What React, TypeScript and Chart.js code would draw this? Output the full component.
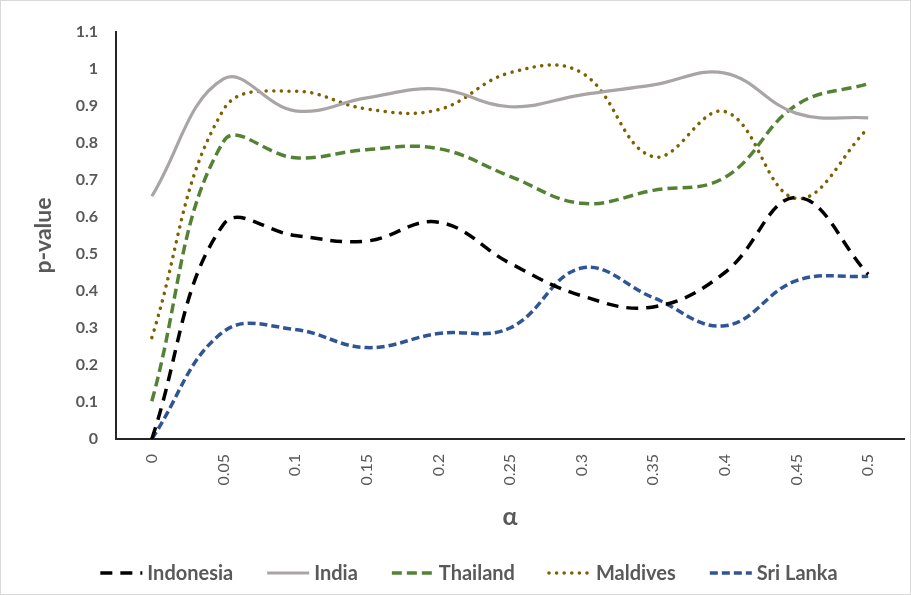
import React, { useEffect, useRef } from "react";
import { Chart, registerables } from "chart.js";

Chart.register(...registerables);

const alphaLabels = ["0", "0.05", "0.1", "0.15", "0.2", "0.25", "0.3", "0.35", "0.4", "0.45", "0.5"];
const indonesia = [0.0, 0.58, 0.55, 0.535, 0.586, 0.475, 0.387, 0.357, 0.45, 0.653, 0.445];
const india = [0.656, 0.973, 0.887, 0.922, 0.946, 0.898, 0.93, 0.957, 0.989, 0.88, 0.868];
const thailand = [0.102, 0.804, 0.76, 0.782, 0.785, 0.71, 0.637, 0.672, 0.707, 0.903, 0.96];
const maldives = [0.274, 0.89, 0.94, 0.892, 0.89, 0.99, 0.99, 0.763, 0.885, 0.65, 0.84];
const sriLanka = [0.0, 0.29, 0.296, 0.247, 0.285, 0.3, 0.462, 0.382, 0.306, 0.428, 0.44];

const FONT = "Lato, 'Open Sans', sans-serif";
const TEXT = "#595959";

const legendPlugin = {
  id: "customLegend",
  afterDraw(chart: any) {
    const ctx = chart.ctx;
    const y = 572;
    const lineLen = 42;
    const gapLineText = 5;
    const itemGap = 34;
    ctx.save();
    ctx.font = `bold 20px ${FONT}`;
    const items = chart.data.datasets.map((ds: any) => ({
      ds,
      w: lineLen + gapLineText + ctx.measureText(ds.label).width,
    }));
    const total = items.reduce((a: number, it: any) => a + it.w, 0) + itemGap * (items.length - 1);
    let x = 468 - total / 2;
    for (const it of items) {
      const ds = it.ds;
      ctx.beginPath();
      ctx.strokeStyle = ds.borderColor;
      ctx.lineWidth = ds.borderWidth;
      ctx.lineCap = ds.borderCapStyle || "butt";
      ctx.setLineDash(ds.borderDash || []);
      ctx.moveTo(x, y);
      ctx.lineTo(x + lineLen, y);
      ctx.stroke();
      ctx.setLineDash([]);
      ctx.fillStyle = TEXT;
      ctx.textBaseline = "middle";
      ctx.textAlign = "left";
      ctx.fillText(ds.label, x + lineLen + gapLineText, y + 1);
      x += it.w + itemGap;
    }
    ctx.restore();
  },
};

export default function App() {
  const ref = useRef<HTMLCanvasElement>(null);
  useEffect(() => {
    if (!ref.current) return;
    const mk = (label: string, data: number[], color: string, dash: number[], width: number, cap = "butt") => ({
      label,
      data,
      borderColor: color,
      backgroundColor: color,
      borderDash: dash,
      borderWidth: width,
      borderCapStyle: cap,
      pointRadius: 0,
      tension: 0.4,
      fill: false,
    });
    const chart = new Chart(ref.current, {
      type: "line",
      data: {
        labels: alphaLabels,
        datasets: [
          mk("Indonesia", indonesia, "#000000", [12, 8], 3.5),
          mk("India", india, "#A9A5A5", [], 3.2),
          mk("Thailand", thailand, "#548235", [10, 5], 3.5),
          mk("Maldives", maldives, "#7F6000", [0.1, 7.5], 3.5, "round"),
          mk("Sri Lanka", sriLanka, "#2F5597", [8, 4], 3.5),
        ] as any,
      },
      options: {
        animation: false,
        responsive: false,
        devicePixelRatio: 1,
        layout: { padding: { left: 0, right: 6, top: 31, bottom: 0 } },
        plugins: { legend: { display: false }, tooltip: { enabled: false } },
        scales: {
          x: {
            type: "category",
            offset: true,
            grid: { display: false, drawTicks: false },
            border: { display: true, color: "#262626", width: 2 },
            ticks: {
              color: TEXT,
              font: { family: FONT, size: 16 },
              minRotation: 90,
              maxRotation: 90,
              padding: 15,
            },
            title: {
              display: true,
              text: "α",
              color: TEXT,
              font: { family: FONT, size: 25, weight: "bold" },
              padding: { top: 0, bottom: 62 },
            },
            afterFit: (s: any) => {
              s.height = 155;
            },
          },
          y: {
            min: 0,
            max: 1.1,
            grid: { display: false, drawTicks: false },
            border: { display: true, color: "#262626", width: 2 },
            ticks: {
              stepSize: 0.1,
              color: TEXT,
              font: { family: FONT, size: 16, weight: "bold" },
              padding: 18,
              callback: (v: any) => String(Number(Number(v).toFixed(2))),
            },
            title: {
              display: true,
              text: "p-value",
              color: TEXT,
              font: { family: FONT, size: 23, weight: "bold" },
              padding: { top: 29, bottom: 0 },
            },
            afterFit: (s: any) => {
              s.width = 115;
            },
          },
        },
      },
      plugins: [legendPlugin],
    });
    return () => chart.destroy();
  }, []);
  return (
    <div
      style={{
        position: "fixed",
        left: 0,
        top: 0,
        width: 911,
        height: 595,
        background: "#fff",
        border: "1px solid #d9d9d9",
        boxSizing: "border-box",
      }}
    >
      <canvas ref={ref} width={909} height={593} style={{ display: "block" }} />
    </div>
  );
}
